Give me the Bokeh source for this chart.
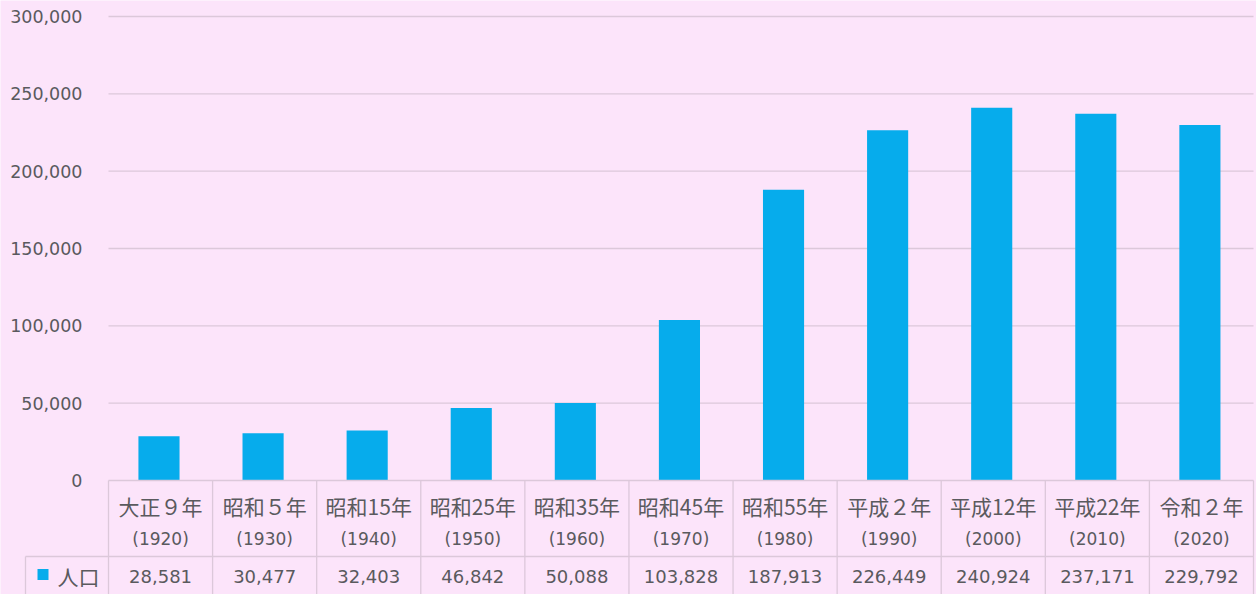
from bokeh.plotting import figure
from bokeh.models import Range1d
from bokeh.core.properties import value
from bokeh.embed import file_html
from bokeh.resources import INLINE

# ---- data ----
eras = ["大正９年", "昭和５年", "昭和15年", "昭和25年", "昭和35年", "昭和45年",
        "昭和55年", "平成２年", "平成12年", "平成22年", "令和２年"]
years = ["(1920)", "(1930)", "(1940)", "(1950)", "(1960)", "(1970)",
         "(1980)", "(1990)", "(2000)", "(2010)", "(2020)"]
population = [28581, 30477, 32403, 46842, 50088, 103828,
              187913, 226449, 240924, 237171, 229792]
series_name = "人口"
y_ticks = [0, 50000, 100000, 150000, 200000, 250000, 300000]

# ---- layout constants (pixels) ----
W, H = 1256, 594
left_px, right_px = 108, 1253
zero_px, top_px = 480, 16
cat_w = (right_px - left_px) / len(eras)
px_per_unit = (zero_px - top_px) / 300000

BG = "#FCE4FA"
BAR = "#06ACEC"
TXT = "#5A5A5E"
LINE = "#DCC8DA"
JP = "Noto Sans CJK JP"
NUM = "DejaVu Sans"

p = figure(width=W, height=H, output_backend="svg", toolbar_location=None,
           x_range=Range1d(-left_px / cat_w, (W - left_px) / cat_w),
           y_range=Range1d(-(H - zero_px) / px_per_unit, zero_px / px_per_unit),
           min_border=0, min_border_left=0, min_border_right=0,
           min_border_top=0, min_border_bottom=0)
p.extra_x_ranges = {"px": Range1d(0, W)}
p.extra_y_ranges = {"px": Range1d(H, 0)}
p.axis.visible = False
p.grid.visible = False
p.outline_line_color = None
p.background_fill_color = BG
p.border_fill_color = BG

n = len(eras)
xs = [i + 0.5 for i in range(n)]
bar_xs = [i + 0.485 for i in range(n)]

# gridlines
grid_vals = [t for t in y_ticks if t > 0]
p.segment(x0=[0] * len(grid_vals), x1=[n] * len(grid_vals), y0=grid_vals, y1=grid_vals,
          line_color=LINE, line_width=1.3)

# bars
p.vbar(x=bar_xs, top=population, bottom=0, width=0.395, fill_color=BAR, line_color=None)

# y tick labels
p.text(x=[82] * len(y_ticks), y=y_ticks, text=[f"{t:,}" for t in y_ticks],
       x_range_name="px", text_align="right", text_baseline="middle",
       text_font=value(NUM), text_font_size="17.5px", text_color=TXT)

# table lines
p.segment(x0=[left_px], x1=[right_px], y0=[zero_px], y1=[zero_px],
          x_range_name="px", y_range_name="px", line_color=LINE, line_width=1.3)
p.segment(x0=[25], x1=[right_px], y0=[556], y1=[556],
          x_range_name="px", y_range_name="px", line_color=LINE, line_width=1.3)
vx = [left_px + cat_w * k for k in range(n + 1)]
p.segment(x0=vx, x1=vx, y0=[zero_px] * len(vx), y1=[H] * len(vx),
          x_range_name="px", y_range_name="px", line_color=LINE, line_width=1.3)
p.segment(x0=[25], x1=[25], y0=[556], y1=[H],
          x_range_name="px", y_range_name="px", line_color=LINE, line_width=1.3)

# category labels
p.text(x=xs, y=[505] * n, text=eras, y_range_name="px",
       text_align="center", text_baseline="middle",
       text_font=value(JP), text_font_size="21px", text_color=TXT)
p.text(x=xs, y=[538] * n, text=years, y_range_name="px",
       text_align="center", text_baseline="middle",
       text_font=value(NUM), text_font_size="17px", text_color=TXT)

# values row
p.text(x=xs, y=[576] * n, text=[f"{v:,}" for v in population], y_range_name="px",
       text_align="center", text_baseline="middle",
       text_font=value(NUM), text_font_size="18px", text_color=TXT)

# legend key + series name
p.rect(x=[42.5], y=[574], width=11, height=11, x_range_name="px", y_range_name="px",
       fill_color=BAR, line_color=None)
p.text(x=[57], y=[575], text=[series_name], x_range_name="px", y_range_name="px",
       text_align="left", text_baseline="middle",
       text_font=value(JP), text_font_size="21px", text_color=TXT)

open("out.html", "w").write(file_html(p, INLINE))
